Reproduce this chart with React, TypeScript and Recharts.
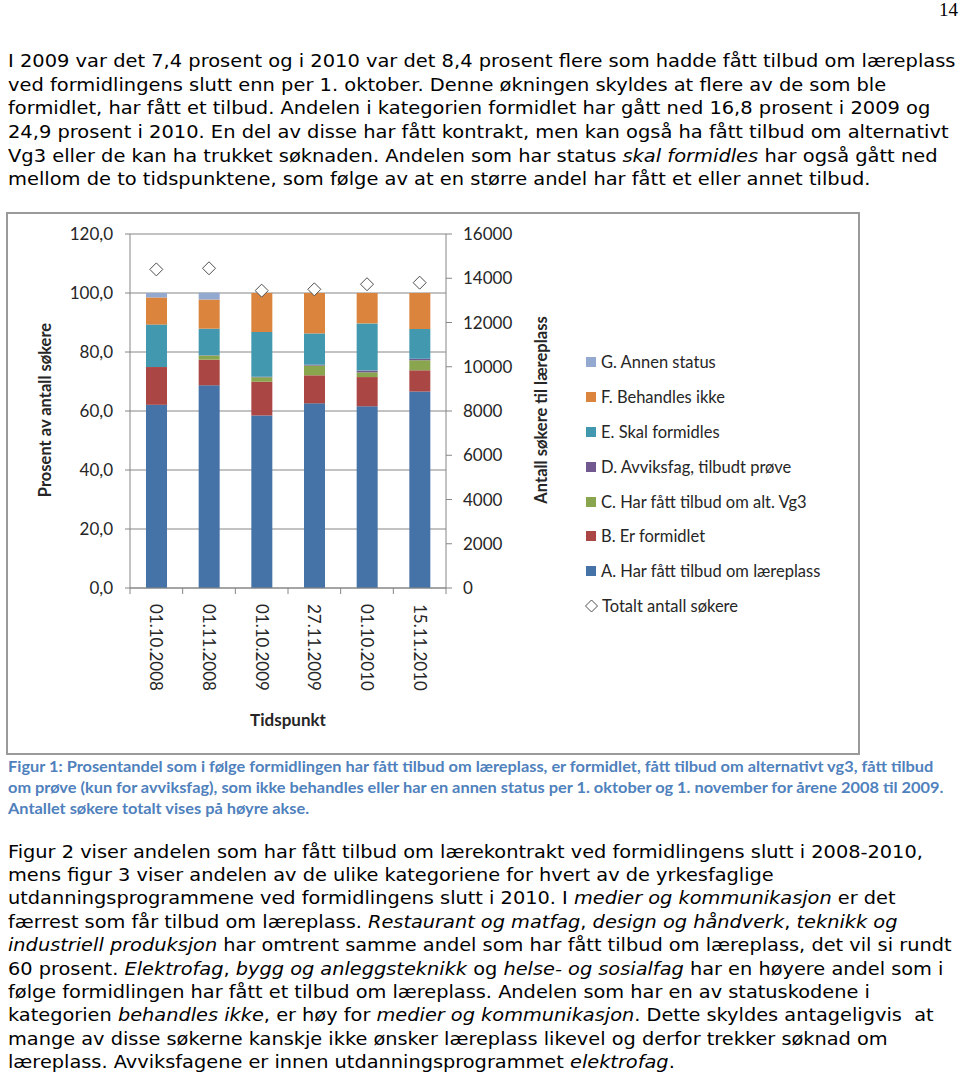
import { useLayoutEffect, useRef, useState } from 'react';
import type { CSSProperties } from 'react';
import { ComposedChart, Bar, Line, XAxis, YAxis, CartesianGrid } from 'recharts';

// --- chart data ---
const categories = ['01.10.2008', '01.11.2008', '01.10.2009', '27.11.2009', '01.10.2010', '15.11.2010'];
const harFattTilbud = [62.1, 68.7, 58.5, 62.6, 61.6, 66.6];
const erFormidlet = [12.8, 8.7, 11.4, 9.5, 9.9, 7.2];
const altVg3 = [0, 1.4, 1.5, 3.3, 1.6, 3.4];
const avviksfag = [0, 0.1, 0.2, 0.3, 0.6, 0.5];
const skalFormidles = [14.4, 9.0, 15.2, 10.6, 16.0, 10.1];
const behandlesIkke = [9.2, 9.9, 13.2, 13.7, 10.3, 12.2];
const annenStatus = [1.5, 2.3, 0, 0, 0, 0];
const totaltSokere = [14400, 14450, 13440, 13500, 13730, 13800];

const leftTicks = [0, 20, 40, 60, 80, 100, 120];
const rightTicks = [0, 2000, 4000, 6000, 8000, 10000, 12000, 14000, 16000];

const series = [
  { key: 'a', name: 'A. Har fått tilbud om læreplass', color: '#4572A7', values: harFattTilbud },
  { key: 'b', name: 'B. Er formidlet', color: '#AA4643', values: erFormidlet },
  { key: 'c', name: 'C. Har fått tilbud om alt. Vg3', color: '#89A54E', values: altVg3 },
  { key: 'd', name: 'D. Avviksfag, tilbudt prøve', color: '#71588F', values: avviksfag },
  { key: 'e', name: 'E. Skal formidles', color: '#4198AF', values: skalFormidles },
  { key: 'f', name: 'F. Behandles ikke', color: '#DB843D', values: behandlesIkke },
  { key: 'g', name: 'G. Annen status', color: '#93A9CF', values: annenStatus },
];
const totalName = 'Totalt antall søkere';

const data = categories.map((c, i) => {
  const row: Record<string, string | number> = { date: c, total: totaltSokere[i] };
  series.forEach((s) => (row[s.key] = s.values[i]));
  return row;
});

// --- page text ---
type Seg = string | { i: string };

const para1: Seg[][] = [
  ['I 2009 var det 7,4 prosent og i 2010 var det 8,4 prosent flere som hadde fått tilbud om læreplass'],
  ['ved formidlingens slutt enn per 1. oktober. Denne økningen skyldes at flere av de som ble'],
  ['formidlet, har fått et tilbud. Andelen i kategorien formidlet har gått ned 16,8 prosent i 2009 og'],
  ['24,9 prosent i 2010. En del av disse har fått kontrakt, men kan også ha fått tilbud om alternativt'],
  ['Vg3 eller de kan ha trukket søknaden. Andelen som har status ', { i: 'skal formidles' }, ' har også gått ned'],
  ['mellom de to tidspunktene, som følge av at en større andel har fått et eller annet tilbud.'],
];

const caption: Seg[][] = [
  ['Figur 1: Prosentandel som i følge formidlingen har fått tilbud om læreplass, er formidlet, fått tilbud om alternativt vg3, fått tilbud'],
  ['om prøve (kun for avviksfag), som ikke behandles eller har en annen status per 1. oktober og 1. november for årene 2008 til 2009.'],
  ['Antallet søkere totalt vises på høyre akse.'],
];

const para2: Seg[][] = [
  ['Figur 2 viser andelen som har fått tilbud om lærekontrakt ved formidlingens slutt i 2008-2010,'],
  ['mens figur 3 viser andelen av de ulike kategoriene for hvert av de yrkesfaglige'],
  ['utdanningsprogrammene ved formidlingens slutt i 2010. I ', { i: 'medier og kommunikasjon' }, ' er det'],
  ['færrest som får tilbud om læreplass. ', { i: 'Restaurant og matfag' }, ', ', { i: 'design og håndverk' }, ', ', { i: 'teknikk og' }],
  [{ i: 'industriell produksjon' }, ' har omtrent samme andel som har fått tilbud om læreplass, det vil si rundt'],
  ['60 prosent. ', { i: 'Elektrofag' }, ', ', { i: 'bygg og anleggsteknikk' }, ' og ', { i: 'helse- og sosialfag' }, ' har en høyere andel som i'],
  ['følge formidlingen har fått et tilbud om læreplass. Andelen som har en av statuskodene i'],
  ['kategorien ', { i: 'behandles ikke' }, ', er høy for ', { i: 'medier og kommunikasjon' }, '. Dette skyldes antageligvis  at'],
  ['mange av disse søkerne kanskje ikke ønsker læreplass likevel og derfor trekker søknad om'],
  ['læreplass. Avviksfagene er innen utdanningsprogrammet ', { i: 'elektrofag' }, '.'],
];

type BlockProps = {
  lines: Seg[][];
  top: number;
  lineHeight: number;
  style: CSSProperties;
  fitLine: number;
  fitWidth: number;
};

// lines keep the original breaks; the block is squeezed so its longest line matches the page
function TextBlock({ lines, top, lineHeight, style, fitLine, fitWidth }: BlockProps) {
  const ref = useRef<HTMLSpanElement>(null);
  const [k, setK] = useState(1);
  useLayoutEffect(() => {
    const measure = () => {
      if (ref.current) setK(fitWidth / ref.current.offsetWidth);
    };
    measure();
    document.fonts?.ready.then(measure);
  }, [fitWidth]);
  return (
    <>
      {lines.map((line, li) => (
        <div
          key={li}
          style={{
            position: 'absolute',
            left: 8,
            top: top + li * lineHeight,
            height: lineHeight,
            lineHeight: `${lineHeight}px`,
            whiteSpace: 'pre',
            transform: `scaleX(${k})`,
            transformOrigin: '0 0',
            ...style,
          }}
        >
          <span ref={li === fitLine ? ref : undefined} style={{ display: 'inline-block' }}>
            {line.map((s, si) =>
              typeof s === 'string' ? <span key={si}>{s}</span> : <i key={si}>{s.i}</i>
            )}
          </span>
        </div>
      ))}
    </>
  );
}

// --- chart pieces ---
const AXIS = '#868686';
const FONT = 'Lato, "Open Sans", sans-serif';
const TXT = '#262626';
const BAND = 316 / categories.length;

function XTick(props: any) {
  const { x, y, payload, index } = props;
  return (
    <g>
      <line x1={x - BAND / 2} x2={x - BAND / 2} y1={y} y2={y + 6} stroke={AXIS} />
      {index === categories.length - 1 && (
        <line x1={x + BAND / 2} x2={x + BAND / 2} y1={y} y2={y + 6} stroke={AXIS} />
      )}
      <text
        transform={`translate(${x},${y + 16}) rotate(90)`}
        dy="0.36em"
        textAnchor="start"
        fontSize={17}
        fontFamily={FONT}
        fill={TXT}
      >
        {payload.value}
      </text>
    </g>
  );
}

function Diamond(props: any) {
  const { cx, cy } = props;
  if (cx == null || cy == null) return null;
  const r = 6.5;
  return (
    <path
      d={`M${cx},${cy - r}L${cx + r},${cy}L${cx},${cy + r}L${cx - r},${cy}Z`}
      fill="#fff"
      stroke="#4d4d4d"
      strokeWidth={1}
    />
  );
}

const fmtPct = (v: number) => v.toFixed(1).replace('.', ',');

function Figure() {
  return (
    <div
      style={{
        position: 'absolute',
        left: 6,
        top: 212,
        width: 850,
        height: 539,
        border: '2px solid #9a9a9a',
        background: '#fff',
      }}
    >
      <ComposedChart
        width={850}
        height={539}
        data={data}
        margin={{ top: 20, right: 332, bottom: 35, left: 22 }}
        barCategoryGap={0}
      >
        <CartesianGrid yAxisId="left" vertical={false} stroke={AXIS} />
        <XAxis
          dataKey="date"
          interval={0}
          axisLine={{ stroke: AXIS }}
          tickLine={false}
          tickSize={0}
          tickMargin={0}
          height={130}
          tick={<XTick />}
        />
        <YAxis
          yAxisId="left"
          domain={[0, 120]}
          ticks={leftTicks}
          interval={0}
          width={100}
          tickFormatter={fmtPct}
          axisLine={{ stroke: AXIS }}
          tickLine={{ stroke: AXIS }}
          tickSize={5}
          tickMargin={12}
          tick={{ fontSize: 17, fontFamily: FONT, fill: TXT }}
        />
        <YAxis
          yAxisId="right"
          orientation="right"
          domain={[0, 16000]}
          ticks={rightTicks}
          interval={0}
          width={80}
          axisLine={{ stroke: AXIS }}
          tickLine={{ stroke: AXIS }}
          tickSize={6}
          tickMargin={11}
          tick={{ fontSize: 17, fontFamily: FONT, fill: TXT, textAnchor: 'start' }}
        />
        {series.map((s) => (
          <Bar
            key={s.key}
            dataKey={s.key}
            name={s.name}
            yAxisId="left"
            stackId="status"
            fill={s.color}
            barSize={21}
            isAnimationActive={false}
          />
        ))}
        <Line
          dataKey="total"
          name={totalName}
          yAxisId="right"
          stroke="none"
          dot={(p: any) => <Diamond key={p.index} {...p} />}
          activeDot={false}
          isAnimationActive={false}
        />
        <text
          transform="translate(37,196) rotate(-90)"
          textAnchor="middle"
          dy="0.36em"
          fontSize={16.5}
          fontWeight={700}
          fontFamily={FONT}
          fill={TXT}
        >
          Prosent av antall søkere
        </text>
        <text
          transform="translate(533,196) rotate(-90)"
          textAnchor="middle"
          dy="0.36em"
          fontSize={16.5}
          fontWeight={700}
          fontFamily={FONT}
          fill={TXT}
        >
          Antall søkere til læreplass
        </text>
        <text x={280} y={506} textAnchor="middle" dy="0.36em" fontSize={17} fontWeight={700} fontFamily={FONT} fill={TXT}>
          Tidspunkt
        </text>
      </ComposedChart>
      <FigureLegend />
    </div>
  );
}

function FigureLegend() {
  const items = [...series].reverse();
  const rowH = 34.9;
  const row: CSSProperties = {
    position: 'absolute',
    left: 0,
    height: rowH,
    display: 'flex',
    alignItems: 'center',
    whiteSpace: 'nowrap',
    fontFamily: FONT,
    fontSize: 16.5,
    color: TXT,
  };
  return (
    <div style={{ position: 'absolute', left: 577, top: 148 - rowH / 2, width: 270 }}>
      {items.map((s, i) => (
        <div key={s.key} style={{ ...row, top: i * rowH }}>
          <span style={{ width: 10, height: 10, background: s.color, marginRight: 5, marginLeft: 1 }} />
          {s.name}
        </div>
      ))}
      <div style={{ ...row, top: items.length * rowH }}>
        <svg width={15} height={14} style={{ marginRight: 2 }}>
          <path d="M6,1L12,7L6,13L0,7Z" fill="#fff" stroke="#4d4d4d" strokeWidth={1} transform="translate(0.5,0)" />
        </svg>
        {totalName}
      </div>
    </div>
  );
}

export default function App() {
  const body: CSSProperties = { fontFamily: '"DejaVu Sans", Verdana, sans-serif', fontSize: 18, color: '#000' };
  return (
    <div style={{ position: 'absolute', left: 0, top: 0, width: 960, height: 1074, background: '#fff', overflow: 'hidden' }}>
      <div
        style={{
          position: 'absolute',
          right: 2,
          top: -1,
          fontFamily: '"Liberation Serif", "Times New Roman", serif',
          fontSize: 19,
          lineHeight: '22px',
        }}
      >
        14
      </div>
      <TextBlock lines={para1} top={49.2} lineHeight={23.6} style={body} fitLine={0} fitWidth={947} />
      <Figure />
      <TextBlock
        lines={caption}
        top={755.5}
        lineHeight={21}
        style={{ fontFamily: FONT, fontWeight: 700, fontSize: 14.5, color: '#4f81bd' }}
        fitLine={0}
        fitWidth={925}
      />
      <TextBlock lines={para2} top={839.5} lineHeight={23.4} style={body} fitLine={4} fitWidth={943} />
    </div>
  );
}
